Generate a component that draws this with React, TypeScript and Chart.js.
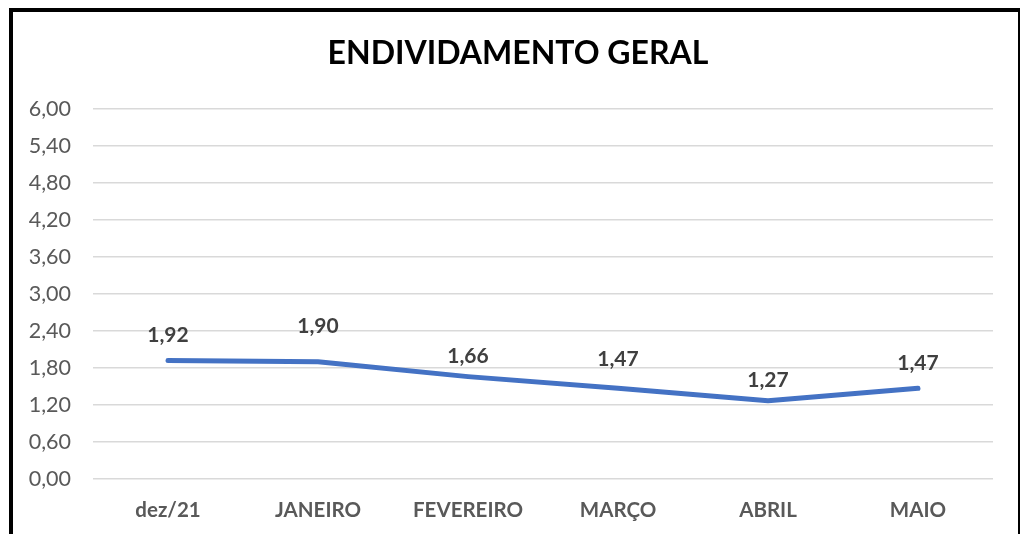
import React, { useEffect, useRef } from "react";
import { Chart, registerables } from "chart.js";

Chart.register(...registerables);

const categories = ["dez/21", "JANEIRO", "FEVEREIRO", "MARÇO", "ABRIL", "MAIO"];
const values = [1.92, 1.9, 1.66, 1.47, 1.27, 1.47];
const labelTexts = ["1,92", "1,90", "1,66", "1,47", "1,27", "1,47"];
const labelLift = [25, 36, 20, 29, 20, 25];
const titleText = "ENDIVIDAMENTO GERAL";

const FONT = "Lato, 'Liberation Sans', sans-serif";

const dataLabelPlugin = {
  id: "dataLabels",
  afterDatasetsDraw(chart: any) {
    const ctx = chart.ctx;
    const meta = chart.getDatasetMeta(0);
    ctx.save();
    ctx.font = `bold 21px ${FONT}`;
    ctx.fillStyle = "#404040";
    ctx.textAlign = "center";
    ctx.textBaseline = "middle";
    meta.data.forEach((pt: any, i: number) => {
      ctx.fillText(labelTexts[i], pt.x, pt.y - labelLift[i]);
    });
    ctx.restore();
  },
};

const titlePlugin = {
  id: "customTitle",
  afterDraw(chart: any) {
    const ctx = chart.ctx;
    ctx.save();
    ctx.font = `bold 32px ${FONT}`;
    ctx.fillStyle = "#000000";
    ctx.textAlign = "center";
    ctx.textBaseline = "middle";
    ctx.fillText(titleText, 518, 54);
    ctx.restore();
  },
};

export default function App() {
  const ref = useRef<HTMLCanvasElement>(null);
  useEffect(() => {
    if (!ref.current) return;
    const chart = new Chart(ref.current, {
      type: "line",
      data: {
        labels: categories,
        datasets: [
          {
            data: values,
            borderColor: "#4472C4",
            borderWidth: 5,
            pointRadius: 0,
            tension: 0,
            borderCapStyle: "round",
            borderJoinStyle: "round",
            fill: false,
          },
        ],
      },
      options: {
        animation: false,
        responsive: false,
        maintainAspectRatio: false,
        layout: { padding: { left: 0, right: 28, top: 109, bottom: 0 } },
        plugins: {
          legend: { display: false },
          tooltip: { enabled: false },
          title: { display: false },
        },
        scales: {
          x: {
            offset: true,
            grid: { display: false, drawTicks: false },
            border: { display: false },
            ticks: {
              color: "#595959",
              font: { family: FONT, size: 20.5, weight: "bold" },
              padding: 19,
              maxRotation: 0,
            },
            afterFit(scale: any) {
              scale.height = 55;
            },
          },
          y: {
            min: 0,
            max: 6,
            grid: { color: "#d9d9d9", lineWidth: 1.5, drawTicks: false },
            border: { display: false },
            ticks: {
              stepSize: 0.6,
              color: "#595959",
              font: { family: FONT, size: 21.5 },
              padding: 22,
              callback: (v: any) => Number(v).toFixed(2).replace(".", ","),
            },
            afterFit(scale: any) {
              scale.width = 93;
            },
          },
        },
      },
      plugins: [dataLabelPlugin, titlePlugin],
    });
    return () => chart.destroy();
  }, []);

  return (
    <>
      <canvas
        ref={ref}
        width={1021}
        height={534}
        style={{ position: "fixed", left: 0, top: 0, width: 1021, height: 534, background: "#fff" }}
      />
      <div
        style={{
          position: "fixed",
          left: 9,
          top: 8,
          width: 1011,
          height: 600,
          boxSizing: "border-box",
          borderLeft: "4px solid #000",
          borderTop: "4px solid #000",
          borderRight: "2px solid #000",
          pointerEvents: "none",
        }}
      />
    </>
  );
}
